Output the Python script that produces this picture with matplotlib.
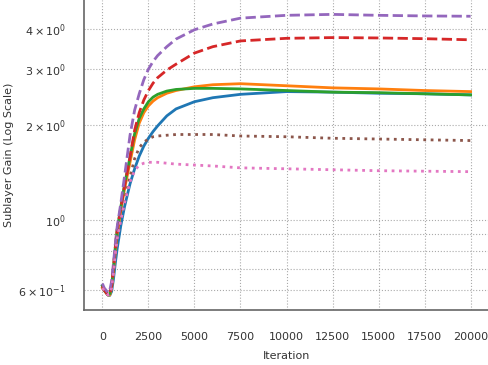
import matplotlib
matplotlib.use("Agg")
import matplotlib.pyplot as plt

# iteration grid shared by all runs
iters = [0, 100, 200, 300, 400, 500, 600, 700, 800, 1000, 1200, 1500, 1750, 2000,
         2250, 2500, 2750, 3000, 3500, 4000, 5000, 6000, 7500, 10000, 12500, 15000,
         17500, 20000]

blue = [0.62, 0.60, 0.59, 0.58, 0.578, 0.595, 0.65, 0.73, 0.81, 0.96, 1.10, 1.30, 1.45, 1.59,
        1.71, 1.81, 1.90, 1.98, 2.13, 2.24, 2.36, 2.43, 2.49, 2.54, 2.53, 2.51, 2.50, 2.48]
orange = [0.61, 0.60, 0.59, 0.58, 0.58, 0.61, 0.69, 0.79, 0.90, 1.07, 1.25, 1.52, 1.79, 2.02,
          2.18, 2.29, 2.37, 2.43, 2.51, 2.56, 2.63, 2.67, 2.69, 2.65, 2.61, 2.59, 2.56, 2.54]
green = [0.62, 0.60, 0.59, 0.58, 0.585, 0.62, 0.71, 0.82, 0.93, 1.10, 1.29, 1.58, 1.87, 2.09,
         2.24, 2.36, 2.44, 2.49, 2.55, 2.58, 2.60, 2.60, 2.59, 2.56, 2.53, 2.52, 2.50, 2.48]
red = [0.62, 0.60, 0.59, 0.58, 0.585, 0.62, 0.71, 0.82, 0.93, 1.09, 1.28, 1.58, 1.92, 2.18,
       2.39, 2.56, 2.70, 2.81, 2.97, 3.10, 3.36, 3.52, 3.67, 3.74, 3.76, 3.75, 3.73, 3.70]
purple = [0.63, 0.61, 0.60, 0.59, 0.60, 0.64, 0.73, 0.84, 0.95, 1.13, 1.37, 1.85, 2.22, 2.50,
          2.77, 2.99, 3.16, 3.30, 3.52, 3.72, 3.98, 4.15, 4.33, 4.42, 4.45, 4.42, 4.40, 4.39]
brown = [0.61, 0.60, 0.59, 0.58, 0.585, 0.61, 0.69, 0.79, 0.89, 1.02, 1.15, 1.37, 1.56, 1.69,
         1.76, 1.80, 1.83, 1.84, 1.85, 1.86, 1.86, 1.86, 1.84, 1.83, 1.81, 1.80, 1.79, 1.78]
pink = [0.61, 0.60, 0.59, 0.58, 0.585, 0.61, 0.68, 0.78, 0.87, 1.00, 1.13, 1.32, 1.43, 1.49,
        1.51, 1.52, 1.52, 1.52, 1.51, 1.50, 1.49, 1.48, 1.46, 1.45, 1.44, 1.43, 1.425, 1.42]

series = [
    (blue, "tab:blue", "-"),
    (orange, "tab:orange", "-"),
    (green, "tab:green", "-"),
    (red, "tab:red", "--"),
    (purple, "tab:purple", "--"),
    (brown, "tab:brown", ":"),
    (pink, "tab:pink", ":"),
]

fig = plt.figure(figsize=(4.89, 3.65), dpi=100)
ax = fig.add_axes([84 / 489, 55 / 365, 1 - 84 / 489, 1 - 55 / 365])

for vals, col, ls in series:
    ax.plot(iters, vals, color=col, linestyle=ls, linewidth=2)

ax.set_yscale("log")
ax.set_xlim(-1000, 21000)
ax.set_ylim(0.52, 4.94)

ax.grid(True, which="both", linestyle=":", color="#aaaaaa", linewidth=0.8)
ax.tick_params(which="both", length=0, labelsize=8, colors="#333333")
ax.tick_params(axis="x", pad=16)
ax.tick_params(axis="y", which="both", pad=13)

for s in ["top", "right"]:
    ax.spines[s].set_visible(False)
for s in ["left", "bottom"]:
    ax.spines[s].set_color("#666666")
    ax.spines[s].set_linewidth(1.2)

ax.set_xlabel("Iteration", fontsize=8, color="#333333", labelpad=6)
ax.set_ylabel("Sublayer Gain (Log Scale)", fontsize=8, color="#333333")
ax.yaxis.set_label_coords(-70 / 405, 0.5)

fig.savefig("out.png", dpi=100)
